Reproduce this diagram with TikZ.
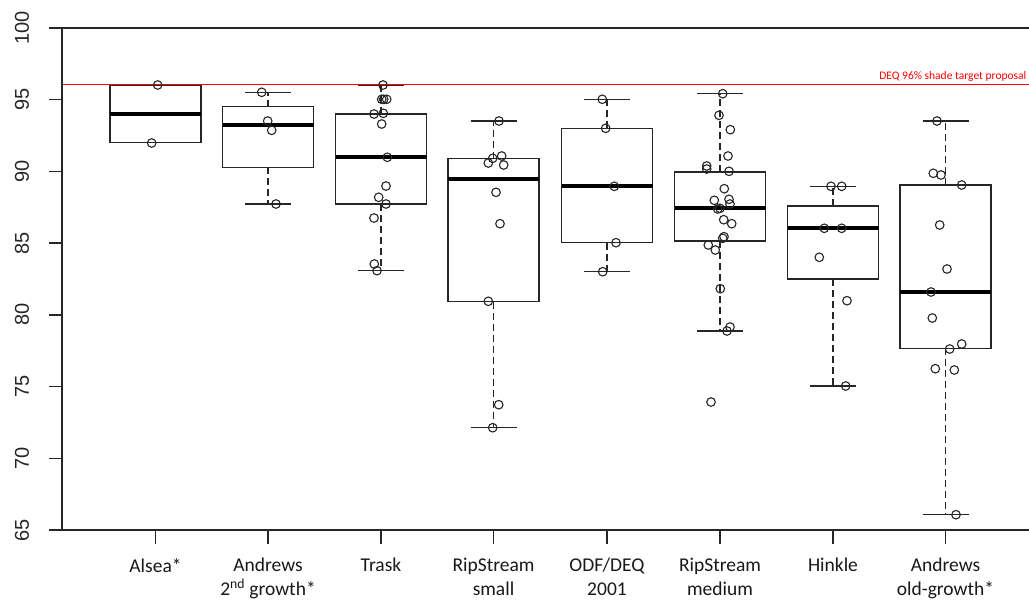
\documentclass[tikz,border=0pt]{standalone}
\usepackage{fontspec}
\setmainfont{Carlito}
\newfontfamily\arialf{Liberation Sans}
\begin{document}
\begin{tikzpicture}[x=1pt,y=-1pt,
  frame/.style={line width=1.4pt,black!85},
  boxln/.style={line width=1.4pt,black!85},
  medln/.style={line width=4pt,black},
  whisk/.style={line width=1.4pt,black!85,dash pattern=on 7pt off 4pt},
  pt/.style={line width=1.1pt,black!85},
  ylab/.style={font=\arialf\fontsize{20}{20}\selectfont,text=black!85,rotate=90,inner sep=0pt},
  xlab/.style={font=\fontsize{19.5}{24}\selectfont,align=center,text=black!90,inner sep=0pt,anchor=north}]
\useasboundingbox (0,0) rectangle (1029,600);
\clip (0,0) rectangle (1029,600);
\fill[white] (0,0) rectangle (1029,600);
% box plot macro: center, whisker top, box top, median, box bottom, whisker bottom
\newcommand\bxp[6]{%
  \draw[whisk] (#1,#3) -- (#1,#2);
  \draw[whisk] (#1,#5) -- (#1,#6);
  \draw[boxln] (#1-23,#2) -- (#1+23,#2);
  \draw[boxln] (#1-23,#6) -- (#1+23,#6);
  \draw[boxln] (#1-45.5,#3) rectangle (#1+45.5,#5);
  \draw[medln] (#1-45.5,#4) -- (#1+45.5,#4);
}
% boxes
\draw[boxln] (110,85) rectangle (201,142.7);
\draw[medln] (110,113.7) -- (201,113.7);
\bxp{268}{92.3}{106.7}{125.3}{167.3}{204}
\bxp{381}{85}{114}{157.3}{204}{270.5}
\bxp{493.5}{121}{158.7}{179}{301.7}{427.7}
\bxp{607}{99.3}{128.3}{186.3}{242.7}{271.7}
\bxp{720}{93.7}{172}{207.7}{241}{331}
\bxp{833}{186.3}{206}{228.3}{279}{386}
\bxp{945.5}{121}{185}{292}{348.3}{514.7}
% red target line
\draw[red,line width=1.3pt] (62,84.5) -- (1029,84.5);
\node[text=red,font=\fontsize{11.5}{12}\selectfont,anchor=base east,inner sep=0pt] (deq) at (1026.5,79.5) {DEQ 96\% shade target proposal};
% points
\foreach \px/\py in {157.7/85,151.7/143,
  261.7/92.3,267.7/121,271.7/130.3,276/204,
  383/85,381.7/99.3,383.7/99.3,386.7/99.3,374/114,383.3/113.3,381.7/124,387.3/157.3,386/186,378.7/197.3,386/204,374/218,374.3/264,377/270.7,
  499/121,492.7/158.3,488.3/163,501.7/156,503.7/165,496/192.3,500/223.7,488.3/301.3,498.7/404.7,492.7/427.7,
  602.3/99.3,605.7/128.3,614.3/186.3,616/242.7,602.7/271.7,
  722.7/93.7,719/115.3,730.3/129.7,728/156,706.7/166,706.7/169,729/171.3,724.3/188.7,714.3/200.3,729/199.3,730/204,720/208.3,717.7/209,723.7/219.7,731.7/223.7,724/236.7,722.7/238.3,708.3/245,715.3/250,720.3/288.7,730/327,727/331,711/402,
  831/186.3,841.7/186.3,824.3/228.3,841.7/228.3,819.3/257.3,847/300.7,845.7/386,
  937/121,933.3/173.3,941/175,961.7/185,939.7/225,947/269,931/292,932.3/318,949.7/349,961.7/344,935.3/368.7,954.3/370,956/514.7}
  \draw[pt] (\px,\py) circle (4.3);
% frame
\draw[frame] (62,28) rectangle (1040,530);
% y ticks and labels
\foreach \v in {65,70,...,100}{
  \pgfmathsetmacro\yy{530-(\v-65)*14.343}
  \draw[frame] (49,\yy) -- (62,\yy);
  \node[ylab] (y\v) at (22,\yy) {\v};
}
% x ticks and labels
\foreach \cx/\lab [count=\i] in {155.5/{Alsea*},268/{Andrews\\2\textsuperscript{nd} growth*},381/{Trask},493.5/{RipStream\\small},607/{ODF/DEQ\\2001},720/{RipStream\\medium},833/{Hinkle},945.5/{Andrews\\old-growth*}}{
  \draw[frame] (\cx,530) -- (\cx,544);
  \node[xlab] (x\i) at (\cx,558) {\lab};
}
\end{tikzpicture}
\end{document}
